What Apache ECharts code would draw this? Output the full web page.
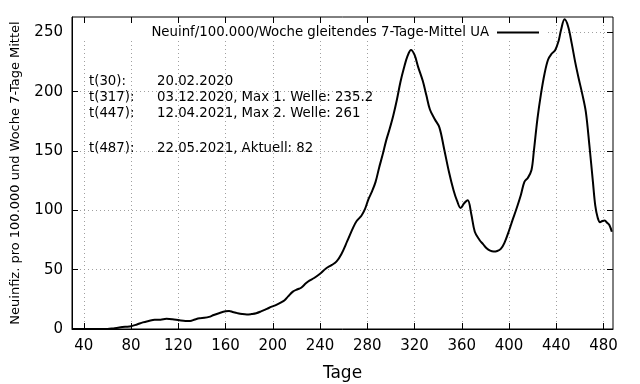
<!DOCTYPE html>
<html>
<head>
<meta charset="utf-8">
<script src="https://cdn.jsdelivr.net/npm/echarts@6/dist/echarts.min.js"></script>
<style>html,body{margin:0;padding:0;background:#fff}#c{width:640px;height:384px}</style>
</head>
<body>
<div id="c"></div>
<script>
const days = [30,40,50,60,65,70,75,80,85,90,95,100,105,110,115,121,126,130,134,138,142,146,150,155,160,163,166,170,174,178,182,186,190,195,199,203,207,210,213,217,221,224,228,231,235,240,245,250,254,258,263,268,271,275,278,281,284,287,290,293,296,299,302,305,308,311,314,317,320,323,327,330,333,337,341,345,349,353,356,359,362,365,368,371,375,378,381,384,387,390,393,396,400,403,406,410,413,416,419,421,424,427,430,433,436,439,442,444,447,450,453,456,459,462,465,468,471,473,475,477,479,481,483,485,487];
const values = [0,0,0,0,0.5,1.2,1.8,2.3,3.8,5.6,6.8,7.8,7.9,8.6,8.2,7.3,6.8,6.8,8.0,9.0,9.4,10.2,11.8,13.5,14.9,15.2,14.4,13.4,12.6,12.2,12.6,13.3,14.8,17,18.8,20.4,22.4,24.3,27.5,31.5,33.5,34.8,38.5,40.8,43,46.5,51,54,57,63,74,85.5,91,95.5,101,109.5,116,124,136,147,159,169,180,193,208,220,230,235.2,231,221,209,197,185,177,170,152,133,117,108,102,106,108.5,97,82,75,71.5,68,66,65.3,65.8,67.5,72.4,83,92,100.5,113,124,127.5,134,150,177,198,215,227,232,235,243,252,261,255,241,225,211,198,183,155,124,104,94,90,91,91.5,89.5,87.5,82];
const xTicks = [40,80,120,160,200,240,280,320,360,400,440,480];
const yTicks = [0,50,100,150,200,250];
const seriesName = 'Neuinf/100.000/Woche gleitendes 7-Tage-Mittel UA';
const notesLeft = ['t(30):', 't(317):', 't(447):', '', 't(487):'];
const notesRight = ['20.02.2020', '03.12.2020, Max 1. Welle: 235.2', '12.04.2021, Max 2. Welle: 261', '', '22.05.2021, Aktuell: 82'];

const FONT = 'DejaVu Sans';
const chart = echarts.init(document.getElementById('c'), null, {renderer: 'canvas'});
const grid = {left: 72, right: 27, top: 17, bottom: 55};
const dotted = {show: true, lineStyle: {color: '#a0a0a0', width: 1, type: [1, 3]}};

function xAx(pos, main) {
  return {
    type: 'value', position: pos, min: 30, max: 488, z: main ? 0 : 6,
    axisLine: {show: main, onZero: false, lineStyle: {color: '#000', width: 1}},
    axisTick: {show: true, inside: true, length: 6, customValues: xTicks, lineStyle: {color: '#000'}},
    axisLabel: {show: main, customValues: xTicks, fontFamily: FONT, fontSize: 15, color: '#000', margin: 10},
    splitLine: main ? dotted : {show: false},
    name: main ? 'Tage' : '', nameLocation: 'middle', nameGap: 36,
    nameTextStyle: {fontFamily: FONT, fontSize: 17, color: '#000'}
  };
}
function yAx(pos, main) {
  return {
    type: 'value', position: pos, min: 0, max: 263, z: main ? 0 : 6,
    axisLine: {show: main, onZero: false, lineStyle: {color: '#000', width: 1}},
    axisTick: {show: true, inside: true, length: 6, customValues: yTicks, lineStyle: {color: '#000'}},
    axisLabel: {show: main, customValues: yTicks, fontFamily: FONT, fontSize: 15, color: '#000', margin: 9},
    splitLine: main ? dotted : {show: false},
    name: main ? 'Neuinfiz. pro 100.000 und Woche 7-Tage Mittel' : '', nameLocation: 'middle', nameGap: 50,
    nameTextStyle: {fontFamily: FONT, fontSize: 13, color: '#000'}
  };
}

const graphics = [{
  type: 'rect', z: 1, silent: true,
  shape: {x: 73, y: 18, width: 472, height: 23},
  style: {fill: '#fff'}
}];
const noteTops = [75, 91.5, 107.5, 0, 142.5];
notesLeft.forEach((t, i) => {
  if (t) graphics.push({type: 'text', z: 10, left: 89, top: noteTops[i], style: {text: t, font: '13.3px "DejaVu Sans"', fill: '#000'}});
});
notesRight.forEach((t, i) => {
  if (t) graphics.push({type: 'text', z: 10, left: 157, top: noteTops[i], style: {text: t, font: '13.3px "DejaVu Sans"', fill: '#000'}});
});

chart.setOption({
  animation: false,
  backgroundColor: '#fff',
  grid: Object.assign({show: true, borderColor: '#000', borderWidth: 1, backgroundColor: 'transparent', containLabel: false, outerBoundsMode: 'none'}, grid),
  legend: {
    show: true, right: 101, top: 26, padding: 0, align: 'right', itemWidth: 42, itemHeight: 14, itemGap: 0, z: 8,
    textStyle: {fontFamily: FONT, fontSize: 13.3, color: '#000', padding: [0, 3, 0, 0]},
    data: [{name: seriesName, icon: 'path://M0,6L42,6L42,8L0,8Z', itemStyle: {color: '#000'}}]
  },
  xAxis: [xAx('bottom', true), xAx('top', false)],
  yAxis: [yAx('left', true), yAx('right', false)],
  graphic: graphics,
  series: [{
    name: seriesName, type: 'line', xAxisIndex: 0, yAxisIndex: 0,
    data: days.map((d, i) => [d, values[i]]),
    symbol: 'none', smooth: 0.35, z: 3,
    lineStyle: {color: '#000', width: 2}, itemStyle: {color: '#000'}
  }]
});
</script>
</body>
</html>
